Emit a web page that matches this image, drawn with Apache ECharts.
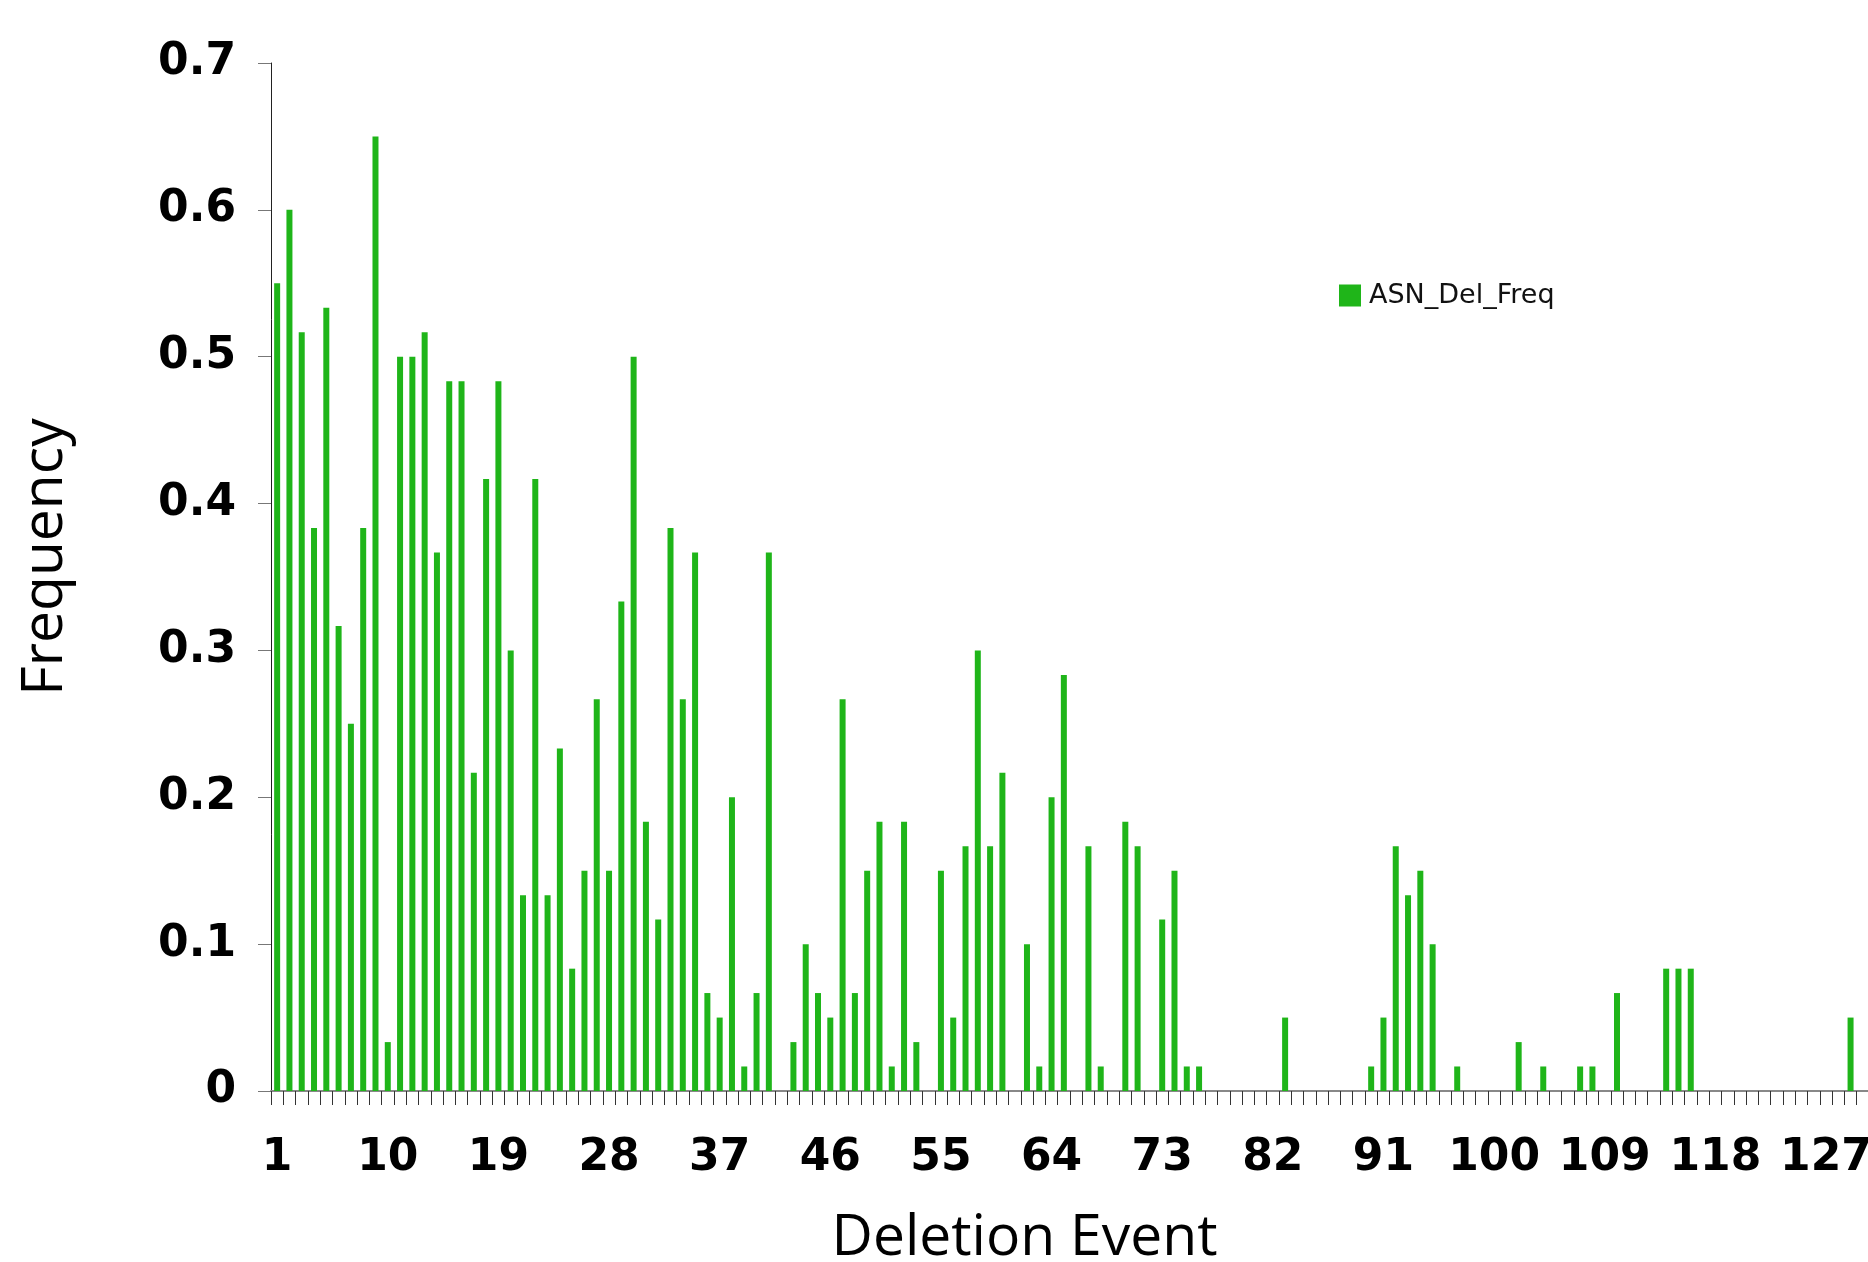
<!DOCTYPE html>
<html>
<head>
<meta charset="utf-8">
<script src="https://cdn.jsdelivr.net/npm/echarts@6/dist/echarts.min.js"></script>
<style>
html,body{margin:0;padding:0;background:#fff;}
#chart{width:1868px;height:1262px;}
</style>
</head>
<body>
<div id="chart"></div>
<script>
// Categories: deletion events 1..130
const categories = [];
for (let i = 1; i <= 130; i++) categories.push(String(i));

const seriesName = 'ASN_Del_Freq';

// Frequencies (events 1..130)
const freq1to40 = [
  0.55, 0.6, 0.5167, 0.3833, 0.5333, 0.3167, 0.25, 0.3833, 0.65, 0.0333,
  0.5, 0.5, 0.5167, 0.3667, 0.4833, 0.4833, 0.2167, 0.4167, 0.4833, 0.3,
  0.1333, 0.4167, 0.1333, 0.2333, 0.0833, 0.15, 0.2667, 0.15, 0.3333, 0.5,
  0.1833, 0.1167, 0.3833, 0.2667, 0.3667, 0.0667, 0.05, 0.2, 0.0167, 0.0667
];
const freq41to80 = [
  0.3667, 0, 0.0333, 0.1, 0.0667, 0.05, 0.2667, 0.0667, 0.15, 0.1833,
  0.0167, 0.1833, 0.0333, 0, 0.15, 0.05, 0.1667, 0.3, 0.1667, 0.2167,
  0, 0.1, 0.0167, 0.2, 0.2833, 0, 0.1667, 0.0167, 0, 0.1833,
  0.1667, 0, 0.1167, 0.15, 0.0167, 0.0167, 0, 0, 0, 0
];
const freq81to130 = [
  0, 0, 0.05, 0, 0, 0, 0, 0, 0, 0.0167,
  0.05, 0.1667, 0.1333, 0.15, 0.1, 0, 0.0167, 0, 0, 0,
  0, 0.0333, 0, 0.0167, 0, 0, 0.0167, 0.0167, 0, 0.0667,
  0, 0, 0, 0.0833, 0.0833, 0.0833, 0, 0, 0, 0,
  0, 0, 0, 0, 0, 0, 0, 0, 0.05, 0
];
const values = freq1to40.concat(freq41to80, freq81to130);

const yTicks = { min: 0, max: 0.7, interval: 0.1 };

const chart = echarts.init(document.getElementById('chart'), null, { renderer: 'canvas' });
chart.setOption({
  animation: false,
  backgroundColor: '#ffffff',
  grid: { left: 271, right: -1, top: 63, bottom: 171, outerBoundsMode: 'none', containLabel: false },
  legend: {
    data: [seriesName],
    left: 1339, top: 282, padding: 0,
    icon: 'rect', itemWidth: 22, itemHeight: 22,
    textStyle: { fontFamily: 'DejaVu Sans', fontSize: 27, color: '#111', padding: [2, 0, 0, 3] }
  },
  xAxis: {
    type: 'category',
    data: categories,
    boundaryGap: true,
    name: 'Deletion Event',
    nameLocation: 'middle',
    nameGap: 119,
    nameTextStyle: { fontFamily: 'Open Sans', fontSize: 57, color: '#000', padding: [0, 91, 0, 0] },
    axisLine: { lineStyle: { color: '#888', width: 2 } },
    axisTick: { show: true, interval: 0, length: 14, lineStyle: { color: '#333', width: 1 } },
    axisLabel: { interval: 8, margin: 46, fontFamily: 'DejaVu Sans', fontWeight: 'bold', fontSize: 44, color: '#000' },
    splitLine: { show: false }
  },
  yAxis: {
    type: 'value',
    min: yTicks.min, max: yTicks.max, interval: yTicks.interval,
    name: 'Frequency',
    nameLocation: 'middle',
    nameGap: 197,
    nameTextStyle: { fontFamily: 'Open Sans', fontSize: 57, color: '#000', padding: [0, 0, 0, 40] },
    axisLine: { show: true, lineStyle: { color: '#222', width: 1 } },
    axisTick: { show: true, length: 13, lineStyle: { color: '#777', width: 1 } },
    axisLabel: { margin: 35, fontFamily: 'DejaVu Sans', fontWeight: 'bold', fontSize: 44, color: '#000' },
    splitLine: { show: false }
  },
  series: [{
    name: seriesName,
    type: 'bar',
    data: values,
    barWidth: 6,
    itemStyle: { color: '#1fb519' }
  }]
});
</script>
</body>
</html>
